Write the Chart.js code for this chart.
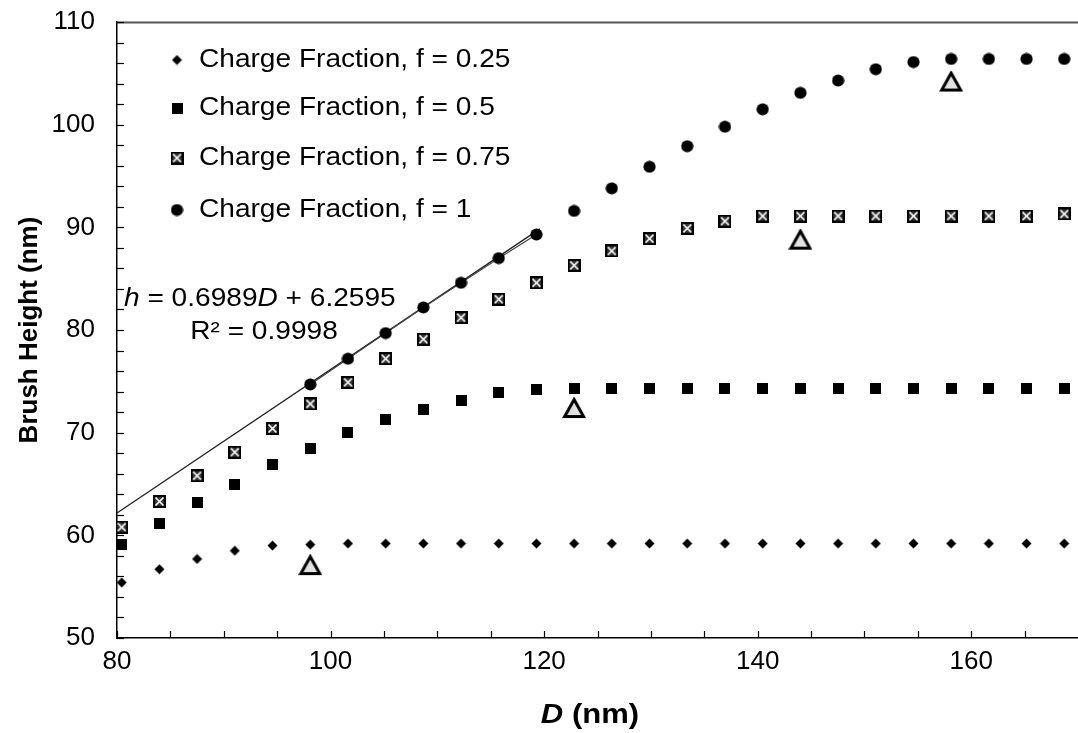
<!DOCTYPE html>
<html>
<head>
<meta charset="utf-8">
<script src="https://cdn.jsdelivr.net/npm/chart.js@4/dist/chart.umd.min.js"></script>
<style>
  html, body { margin: 0; padding: 0; background: #fff; }
  #wrap { width: 1078px; height: 733px; }
</style>
</head>
<body>
<div id="wrap"><canvas id="brushChart" width="1078" height="733"></canvas></div>
<script>
// brush diameter D (nm) for every simulated point
const diameters = [80.44, 83.97, 87.5, 91.03, 94.56, 98.1, 101.63, 105.16, 108.69, 112.22,
  115.75, 119.28, 122.81, 126.34, 129.87, 133.4, 136.94, 140.47, 144.0, 147.53,
  151.06, 154.59, 158.12, 161.65, 165.18, 168.71];

// brush heights (nm), one array per charge fraction
const heightF025 = [55.4, 56.7, 57.7, 58.5, 59.0, 59.1, 59.2, 59.2, 59.2, 59.2,
  59.2, 59.2, 59.2, 59.2, 59.2, 59.2, 59.2, 59.2, 59.2, 59.2,
  59.2, 59.2, 59.2, 59.2, 59.2, 59.2];
const heightF05 = [59.1, 61.2, 63.2, 65.0, 66.9, 68.5, 70.0, 71.3, 72.3, 73.1,
  73.9, 74.2, 74.3, 74.3, 74.3, 74.3, 74.3, 74.3, 74.3, 74.3,
  74.3, 74.3, 74.3, 74.3, 74.3, 74.3];
const heightF075 = [60.8, 63.3, 65.8, 68.1, 70.4, 72.8, 74.9, 77.2, 79.1, 81.2,
  83.0, 84.6, 86.3, 87.7, 88.9, 89.9, 90.6, 91.1, 91.1, 91.1,
  91.1, 91.1, 91.1, 91.1, 91.1, 91.3];
// f = 1 only starts at the 6th diameter
const heightF1 = [74.7, 77.2, 79.7, 82.2, 84.6, 87.0, 89.3, 91.6, 93.8, 95.9,
  97.9, 99.8, 101.5, 103.1, 104.3, 105.4, 106.1, 106.4, 106.4, 106.4, 106.4];
const f1Start = 5;

// open triangles (not in the legend)
const triangleD = [98.1, 122.81, 144.0, 158.12];
const triangleH = [57.1, 72.4, 88.8, 104.2];

// linear fit of the first f = 1 points
const fitSlope = 0.6989;
const fitIntercept = 6.2595;
const fitRange = [80, 119.6];
const fitCount = 7;

const seriesNames = [
  "Charge Fraction, f = 0.25",
  "Charge Fraction, f = 0.5",
  "Charge Fraction, f = 0.75",
  "Charge Fraction, f = 1",
];

const xTickValues = [80, 100, 120, 140, 160];
const yTickValues = [50, 60, 70, 80, 90, 100, 110];

const FONT = "'Liberation Sans', Arial, Helvetica, sans-serif";
const STRETCH = 1.08; // the original text is a bit wider than Arial

// ---------- marker images ----------
function makeMarker(w, h, draw) {
  const c = document.createElement("canvas");
  c.width = w;
  c.height = h;
  draw(c.getContext("2d"));
  return c;
}

const diamondImg = makeMarker(11, 11, (g) => {
  g.fillStyle = "#000";
  g.beginPath();
  g.moveTo(5.5, 0.5);
  g.lineTo(10.5, 5.5);
  g.lineTo(5.5, 10.5);
  g.lineTo(0.5, 5.5);
  g.closePath();
  g.fill();
});

const squareImg = makeMarker(11, 11, (g) => {
  g.fillStyle = "#000";
  g.fillRect(0, 0, 11, 11);
});

const crossImg = makeMarker(13, 13, (g) => {
  g.fillStyle = "#000";
  g.fillRect(0, 0, 13, 13);
  g.fillStyle = "#333";
  g.fillRect(2, 2, 9, 9);
  g.strokeStyle = "#fff";
  g.lineWidth = 1.7;
  g.beginPath();
  g.moveTo(2.5, 2.5); g.lineTo(10.5, 10.5);
  g.moveTo(10.5, 2.5); g.lineTo(2.5, 10.5);
  g.stroke();
});

const circleImg = makeMarker(13, 13, (g) => {
  g.fillStyle = "#000";
  g.beginPath();
  g.arc(6.5, 6.5, 6.1, 0, Math.PI * 2);
  g.fill();
});

const triangleImg = makeMarker(24, 22, (g) => {
  g.fillStyle = "#e2e2e2";
  g.strokeStyle = "#000";
  g.lineWidth = 3;
  g.lineJoin = "miter";
  g.beginPath();
  g.moveTo(12, 2.5);
  g.lineTo(21.5, 19.5);
  g.lineTo(2.5, 19.5);
  g.closePath();
  g.fill();
  g.stroke();
});

const legendMarkers = [diamondImg, squareImg, crossImg, circleImg];

function pts(xs, ys) {
  return ys.map((y, i) => ({ x: xs[i], y: y }));
}

// text made of pieces with different styles, stretched a little sideways
function drawParts(ctx, parts, x, y, align, stretch) {
  ctx.save();
  ctx.fillStyle = "#000";
  ctx.textBaseline = "middle";
  let total = 0;
  parts.forEach((p) => {
    ctx.font = p.font;
    p.w = ctx.measureText(p.text).width;
    total += p.w;
  });
  ctx.translate(x, y);
  ctx.scale(stretch || STRETCH, 1);
  let cx = align === "center" ? -total / 2 : 0;
  parts.forEach((p) => {
    ctx.font = p.font;
    ctx.textAlign = "left";
    ctx.fillText(p.text, cx, 0);
    cx += p.w;
  });
  ctx.restore();
}

// the axes keep no extra room for their end labels
function zeroPadding(scale) {
  scale.paddingLeft = 0;
  scale.paddingRight = 0;
  scale.paddingTop = 0;
  scale.paddingBottom = 0;
}

// the plot runs to the right edge of the picture (x axis cut at 170)
const fullWidthPlugin = {
  id: "fullWidth",
  afterLayout(chart) {
    const a = chart.chartArea;
    const xs = chart.scales.x;
    a.right = chart.width;
    a.width = a.right - a.left;
    xs.right = chart.width;
    xs.width = xs.right - xs.left;
    xs.configure();
  },
};

const decorPlugin = {
  id: "decor",
  afterDatasetsDraw(chart) {
    const { ctx, chartArea: a, scales } = chart;
    const xs = scales.x;
    const ys = scales.y;
    ctx.save();

    // top frame line
    ctx.strokeStyle = "#555";
    ctx.lineWidth = 2;
    ctx.beginPath();
    ctx.moveTo(a.left, a.top + 0.5);
    ctx.lineTo(a.right, a.top + 0.5);
    ctx.stroke();

    // inward tick marks
    ctx.strokeStyle = "#000";
    ctx.lineWidth = 1.2;
    for (let v = ys.min; v <= ys.max; v += 2) {
      const py = Math.round(ys.getPixelForValue(v)) + 0.5;
      ctx.beginPath();
      ctx.moveTo(a.left, py);
      ctx.lineTo(a.left + 7, py);
      ctx.stroke();
    }
    for (let v = xs.min; v < xs.max; v += 5) {
      const px = Math.round(xs.getPixelForValue(v)) + 0.5;
      ctx.beginPath();
      ctx.moveTo(px, a.bottom);
      ctx.lineTo(px, a.bottom - 7);
      ctx.stroke();
    }

    // legend inside the plot
    const rowY = [60, 108, 158, 210];
    seriesNames.forEach((name, i) => {
      const img = legendMarkers[i];
      ctx.drawImage(img, 177 - img.width / 2, rowY[i] - img.height / 2);
      drawParts(ctx, [{ text: name, font: "26px " + FONT }], 199, rowY[i], "left");
    });

    // fit equation
    const reg = "26px " + FONT;
    const ita = "italic 26px " + FONT;
    drawParts(ctx, [
      { text: "h", font: ita },
      { text: " = 0.6989", font: reg },
      { text: "D", font: ita },
      { text: " + 6.2595", font: reg },
    ], 124, 299, "left");
    drawParts(ctx, [{ text: "R² = 0.9998", font: reg }], 264, 332, "center");

    // x axis title
    drawParts(ctx, [
      { text: "D", font: "italic bold 27px " + FONT },
      { text: " (nm)", font: "bold 27px " + FONT },
    ], 590, 716, "center", 1.15);

    ctx.restore();
  },
};

const ctx = document.getElementById("brushChart").getContext("2d");

new Chart(ctx, {
  type: "scatter",
  data: {
    datasets: [
      { label: "triangles", data: pts(triangleD, triangleH), pointStyle: triangleImg, pointRadius: 8, order: 0 },
      { label: seriesNames[3], data: pts(diameters.slice(f1Start), heightF1), pointStyle: circleImg, pointRadius: 6, order: 1 },
      { label: seriesNames[2], data: pts(diameters, heightF075), pointStyle: crossImg, pointRadius: 6, order: 2 },
      { label: seriesNames[1], data: pts(diameters, heightF05), pointStyle: squareImg, pointRadius: 6, order: 3 },
      { label: seriesNames[0], data: pts(diameters, heightF025), pointStyle: diamondImg, pointRadius: 6, order: 4 },
      {
        label: "fit points",
        data: pts(diameters.slice(f1Start, f1Start + fitCount), heightF1.slice(0, fitCount)),
        showLine: true, borderColor: "#444", borderWidth: 1.2, pointRadius: 0, order: 9,
      },
      {
        label: "fit",
        data: fitRange.map((x) => ({ x: x, y: fitSlope * x + fitIntercept })),
        showLine: true, borderColor: "#222", borderWidth: 1.3, pointRadius: 0, order: 10,
      },
    ],
  },
  options: {
    responsive: false,
    animation: false,
    events: [],
    layout: { padding: { top: 22, right: 0, left: 0, bottom: 0 } },
    plugins: {
      legend: { display: false },
      tooltip: { enabled: false },
    },
    scales: {
      x: {
        type: "linear",
        min: 80,
        max: 170,
        afterBuildTicks: (scale) => {
          scale.ticks = xTickValues.map((v) => ({ value: v }));
        },
        afterFit: (scale) => {
          scale.height = 95;
          zeroPadding(scale);
        },
        grid: { display: false, drawTicks: false },
        border: { display: true, color: "#000", width: 1.5 },
        ticks: {
          padding: 8,
          color: "#000",
          font: { family: FONT, size: 26 },
        },
      },
      y: {
        type: "linear",
        min: 50,
        max: 110,
        afterBuildTicks: (scale) => {
          scale.ticks = yTickValues.map((v) => ({ value: v }));
        },
        afterFit: (scale) => {
          scale.width = 117;
          zeroPadding(scale);
        },
        grid: { display: false, drawTicks: false },
        border: { display: true, color: "#000", width: 1.5 },
        ticks: {
          padding: 22,
          color: "#000",
          font: { family: FONT, size: 26 },
        },
        title: {
          display: true,
          text: "Brush Height (nm)",
          color: "#000",
          font: { family: FONT, size: 26, weight: "bold" },
          padding: { top: 14, bottom: 0 },
        },
      },
    },
  },
  plugins: [fullWidthPlugin, decorPlugin],
});
</script>
</body>
</html>
